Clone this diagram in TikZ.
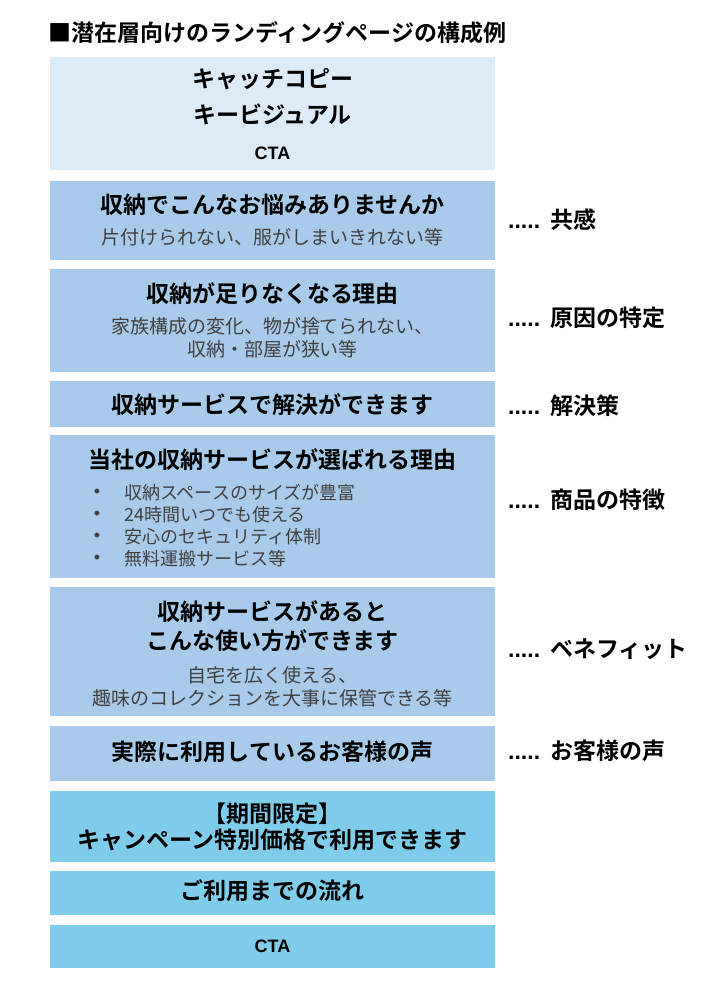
\documentclass[tikz,border=0pt]{standalone}
\usepackage{fontspec}
\setmainfont{Noto Sans CJK JP}[BoldFont={* Bold}]
\newfontfamily\latinfont{Liberation Sans}
\definecolor{paleblue}{HTML}{DDEBF7}
\definecolor{midblue}{HTML}{A9CBEB}
\definecolor{skyblue}{HTML}{7FCCEB}
\definecolor{subgray}{HTML}{404040}
\newcommand{\leader}{{\latinfont\bfseries .....}\hspace{10pt}}
\tikzset{
  band/.style={draw=none, minimum width=445pt, inner sep=0pt},
  head/.style={font=\fontsize{23}{26}\selectfont\bfseries, inner sep=0pt},
  sub/.style={font=\fontsize{19}{22}\selectfont, text=subgray, inner sep=0pt},
  tag/.style={anchor=west, font=\fontsize{23}{26}\selectfont\bfseries, inner sep=0pt}
}
\begin{document}
\begin{tikzpicture}[x=1pt,y=-1pt]
  \useasboundingbox (0,0) rectangle (720,989);
  % title
  \node[anchor=west, font=\fontsize{23}{26}\selectfont\bfseries, inner sep=0pt] (title) at (48,33) {■潜在層向けのランディングページの構成例};
  % bands
  \node[band, fill=paleblue, minimum height=113pt] (b1) at (272.5,113.5) {};
  \node[band, fill=midblue, minimum height=79pt] (b2) at (272.5,220.5) {};
  \node[band, fill=midblue, minimum height=103pt] (b3) at (272.5,320.5) {};
  \node[band, fill=midblue, minimum height=46pt] (b4) at (272.5,404) {};
  \node[band, fill=midblue, minimum height=143pt] (b5) at (272.5,506.5) {};
  \node[band, fill=midblue, minimum height=129pt] (b6) at (272.5,651.5) {};
  \node[band, fill=midblue, minimum height=55pt] (b7) at (272.5,753.5) {};
  \node[band, fill=skyblue, minimum height=71pt] (b8) at (272.5,826.5) {};
  \node[band, fill=skyblue, minimum height=44pt] (b9) at (272.5,893) {};
  \node[band, fill=skyblue, minimum height=43pt] (b10) at (272.5,946.5) {};
  % texts
  \node[head] (h1a) at (272.5,79) {キャッチコピー};
  \node[head] (h1b) at (272.5,114) {キービジュアル};
  \node[head, font=\fontsize{18}{21}\selectfont\bfseries\latinfont] (h1c) at (272.5,153) {CTA};
  \node[head] (h2) at (272.5,205) {収納でこんなお悩みありませんか};
  \node[sub] (s2) at (272.5,237) {片付けられない、服がしまいきれない等};
  \node[head] (h3) at (272.5,294) {収納が足りなくなる理由};
  \node[sub, align=center, font=\fontsize{19}{23}\selectfont] (s3) at (272.5,338) {家族構成の変化、物が捨てられない、\\収納・部屋が狭い等};
  \node[head] (h4) at (272.5,405) {収納サービスで解決ができます};
  \node[head] (h5) at (272.5,460) {当社の収納サービスが選ばれる理由};
  \foreach \txt [count=\i] in {収納スペースのサイズが豊富, 24時間いつでも使える, 安心のセキュリティ体制, 無料運搬サービス等} {
    \node[sub, font=\fontsize{18}{20}\selectfont\latinfont] (dot\i) at (97,471+22*\i) {•};
    \node[sub, anchor=west, font=\fontsize{18}{20}\selectfont] (item\i) at (124,471+22*\i) {\txt};
  }
  \node[head, align=center, font=\fontsize{23}{29}\selectfont\bfseries] (h6) at (272.5,626.5) {収納サービスがあると\\こんな使い方ができます};
  \node[sub, align=center, font=\fontsize{19}{23}\selectfont] (s6) at (272.5,686.5) {自宅を広く使える、\\趣味のコレクションを大事に保管できる等};
  \node[head] (h7) at (272.5,752) {実際に利用しているお客様の声};
  \node[head, align=center, font=\fontsize{23}{26}\selectfont\bfseries] (h8) at (272.5,827) {【期間限定】\\キャンペーン特別価格で利用できます};
  \node[head] (h9) at (272.5,891) {ご利用までの流れ};
  \node[head, font=\fontsize{18}{21}\selectfont\bfseries\latinfont] (h10) at (272.5,946) {CTA};
  % side tags
  \node[tag] (t2) at (508,220) {\leader 共感};
  \node[tag] (t3) at (508,318) {\leader 原因の特定};
  \node[tag] (t4) at (508,406) {\leader 解決策};
  \node[tag] (t5) at (508,500) {\leader 商品の特徴};
  \node[tag] (t6) at (508,649) {\leader ベネフィット};
  \node[tag] (t7) at (508,751) {\leader お客様の声};
\end{tikzpicture}
\end{document}
